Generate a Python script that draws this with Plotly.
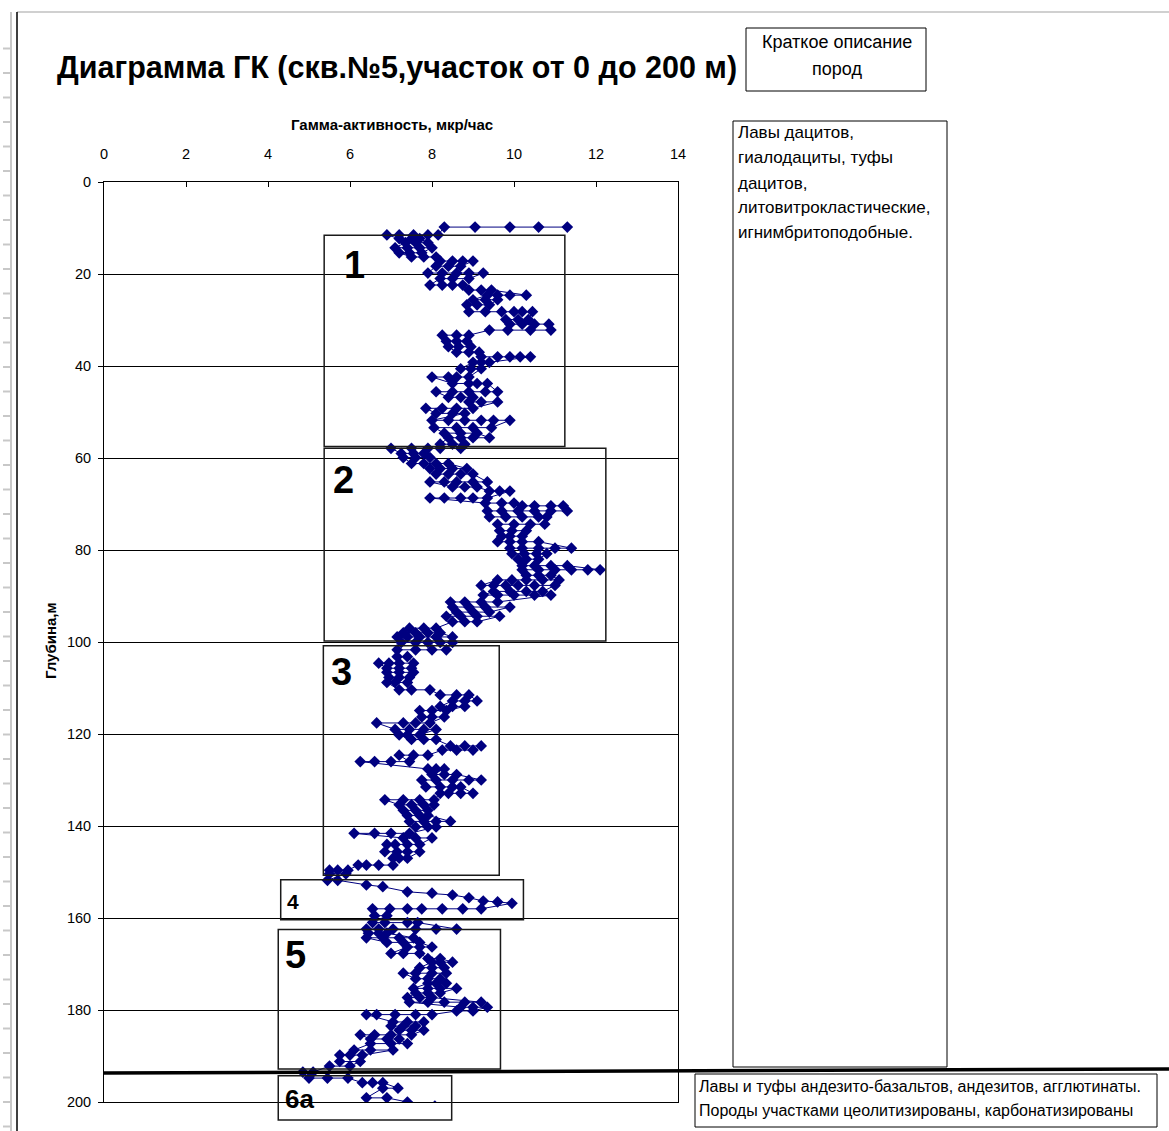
import plotly.graph_objects as go

# ---------------- data ----------------
# Each row: one logging depth (m) with the successive gamma readings (мкр/час)
row_depth = [
    9.8, 11.5, 12.3, 13.2, 14.3, 15.4, 16.3, 17.2, 18.3, 19.8,
    21.0, 22.4, 23.5, 24.6, 25.6, 26.7, 28.2, 29.9, 30.9, 32.2,
    33.3, 34.6, 35.8, 37.0, 38.0, 39.2, 40.6, 42.4, 43.8, 45.6,
    46.8, 47.8, 49.2, 50.3, 51.8, 53.4, 54.6, 55.6, 57.0, 57.9,
    59.0, 59.9, 61.2, 62.3, 63.5, 65.2, 66.3, 67.2, 68.7, 69.8,
    70.4, 71.5, 72.8, 74.4, 75.8, 77.0, 78.2, 79.6, 80.8, 82.0,
    83.4, 84.3, 85.5, 86.5, 87.7, 89.0, 89.8, 91.3, 92.4, 93.5,
    94.4, 95.6, 97.0, 98.0, 98.9, 100.1, 101.7, 103.2, 104.6, 105.7,
    106.6, 107.7, 108.8, 110.4, 111.5, 112.8, 114.0, 114.9, 116.3, 117.6,
    119.0, 120.2, 121.2, 122.6, 123.5, 124.6, 126.0, 127.6, 128.8, 130.0,
    131.5, 132.9, 134.3, 135.4, 136.6, 137.7, 139.0, 140.2, 141.6, 142.6,
    144.0, 145.6, 147.0, 148.5, 149.6, 150.4, 151.8, 152.8, 153.2, 154.3,
    154.6, 155.0, 155.6, 156.3, 156.5, 156.8, 158.0, 159.5, 161.0, 162.4,
    163.3, 164.3, 165.3, 166.3, 167.7, 168.8, 169.6, 170.8, 172.0, 173.2,
    174.2, 175.3, 176.3, 177.3, 178.3, 179.4, 180.2, 181.0, 182.6, 183.5,
    184.4, 185.4, 186.3, 187.3, 188.7, 189.8, 191.2, 192.2, 193.5, 194.8,
    195.8, 197.0, 199.1, 200.0, 200.9,
]
row_values = [
    [11.3, 10.6, 9.9, 9.05, 8.3], [8.15, 7.9, 7.55, 7.2, 6.9], [7.2, 7.5, 7.7],
    [7.9, 7.6, 7.35], [7.1, 7.4, 7.7, 8.0], [7.75, 7.45, 7.2], [7.5, 7.8, 8.1],
    [8.2, 8.5, 8.75, 9.0], [8.7, 8.4, 8.1], [7.9, 8.25, 8.6, 8.9, 9.25],
    [8.9, 8.5, 8.2], [7.95, 8.25, 8.5, 8.75], [8.9, 9.2, 9.45], [10.3, 9.9, 9.6, 9.35],
    [9.0, 9.3, 9.6], [9.4, 9.1, 8.85], [8.9, 9.3, 9.7, 10.0, 10.2, 10.45],
    [10.35, 10.1, 9.8], [9.9, 10.2, 10.5, 10.85], [10.9, 10.4, 9.85, 9.4],
    [8.9, 8.6, 8.25], [8.35, 8.6, 8.85], [8.95, 8.65, 8.4], [8.6, 8.9, 9.15],
    [9.2, 9.6, 9.9, 10.15, 10.4], [9.4, 9.2, 9.0], [8.7, 8.95, 9.2],
    [8.9, 8.6, 8.4, 8.0], [8.5, 8.9, 9.1, 9.35], [9.6, 9.3, 8.9, 8.5, 8.1],
    [8.4, 8.7, 9.0], [8.9, 9.2, 9.6], [9.0, 8.6, 8.25, 7.85], [8.1, 8.5, 8.8],
    [8.0, 8.4, 8.8, 9.2, 9.5, 9.9], [9.45, 9.0, 8.6, 8.05], [8.3, 8.7, 9.1],
    [9.4, 9.0, 8.7, 8.4], [8.2, 8.5, 8.8], [8.7, 8.2, 7.9, 7.5, 7.0],
    [7.25, 7.55, 7.8], [7.95, 7.6, 7.3], [7.5, 7.8, 8.1, 8.4], [8.85, 8.5, 8.2, 7.95],
    [8.1, 8.4, 8.7, 9.0], [9.35, 9.0, 8.6, 8.3, 7.95], [8.5, 8.8, 9.1],
    [9.4, 9.65, 9.9], [9.35, 9.0, 8.7, 8.3, 7.95], [9.3, 9.7, 10.0],
    [10.2, 10.5, 10.9, 11.2], [11.3, 10.9, 10.5, 10.1, 9.7, 9.35],
    [9.4, 9.8, 10.2, 10.6, 10.8], [10.75, 10.4, 10.0, 9.6], [9.65, 9.95, 10.3],
    [10.2, 9.9, 9.7], [9.6, 9.9, 10.2, 10.6], [11.4, 11.0, 10.6, 10.2, 9.9],
    [9.95, 10.25, 10.55, 10.8], [10.6, 10.3, 10.1], [10.2, 10.5, 10.9, 11.3],
    [12.1, 11.8, 11.4, 11.0, 10.6, 10.2], [10.3, 10.6, 10.9],
    [11.1, 10.7, 10.3, 9.95, 9.6], [9.2, 9.5, 9.8, 10.1, 10.5, 11.0],
    [10.7, 10.3, 9.9, 9.5], [9.25, 9.6, 10.0, 10.5, 10.9], [9.6, 9.2, 8.8, 8.45],
    [8.5, 8.9, 9.3, 9.9], [9.4, 9.0, 8.6], [8.35, 8.7, 9.1, 9.65], [9.1, 8.8, 8.5],
    [8.1, 7.8, 7.45], [7.3, 7.6, 7.9, 8.2], [8.5, 8.1, 7.7, 7.4, 7.15],
    [7.25, 7.6, 7.9, 8.2, 8.5], [8.35, 8.0, 7.6, 7.15], [7.15, 7.4],
    [7.55, 7.2, 6.95, 6.7], [6.9, 7.2, 7.5], [7.55, 7.2, 6.9], [6.95, 7.2, 7.45],
    [7.4, 7.1, 6.9], [7.2, 7.5, 7.95], [8.2, 8.6, 8.9], [9.1, 8.8, 8.5],
    [8.2, 8.5, 8.8], [8.35, 8.0, 7.7], [7.75, 8.0, 8.3], [7.95, 7.6, 7.3, 6.65],
    [7.1, 7.45, 7.8, 8.1], [7.7, 7.4, 7.2], [7.5, 7.8, 8.1], [8.45, 8.8, 9.2],
    [9.0, 8.6, 8.25], [7.9, 7.55, 7.2], [7.45, 7.0, 6.6, 6.25], [7.9, 8.1, 8.3],
    [8.0, 8.3, 8.6], [9.2, 8.9, 8.5, 8.1, 7.75], [7.85, 8.2, 8.5, 8.7],
    [9.0, 8.7, 8.4, 8.2], [8.05, 7.7, 7.3, 6.85], [7.2, 7.5, 7.8, 8.05],
    [7.9, 7.6, 7.3], [7.4, 7.7, 7.9], [8.45, 8.1, 7.8, 7.45], [7.6, 7.9, 8.1],
    [7.45, 7.0, 6.6, 6.1], [7.3, 7.6, 8.0], [7.7, 7.4, 7.1, 6.9],
    [6.85, 7.15, 7.4, 7.7], [7.4, 7.2, 7.05], [7.05, 6.7, 6.4, 6.2],
    [5.95, 5.7, 5.5], [5.5, 5.9], [5.45, 5.7], [6.4], [6.8], [7.4],
    [8.0], [8.5], [8.9], [9.25], [9.6], [9.95],
    [9.2, 8.75, 8.25, 7.75, 7.4, 6.97, 6.55], [6.6, 6.9],
    [6.55, 6.85, 7.4, 7.65], [8.6, 8.1, 7.6, 7.05, 6.7, 6.4],
    [6.45, 6.7, 6.9], [7.55, 7.2, 6.8, 6.4], [6.9, 7.3, 7.7], [8.0, 7.7, 7.4],
    [7.0, 7.3, 7.7], [7.9, 8.2], [8.5, 8.2, 8.0], [7.7, 8.0, 8.3],
    [8.35, 8.0, 7.6, 7.3], [7.6, 7.9, 8.2], [8.35, 8.1, 7.9],
    [7.55, 7.9, 8.2, 8.6], [8.2, 7.9, 7.6], [7.4, 7.7, 8.0],
    [9.2, 8.8, 8.3, 7.9, 7.45], [8.7, 9.0, 9.35], [9.0, 8.6],
    [8.0, 7.6, 7.1, 6.65, 6.4], [7.05, 7.4, 7.8], [7.6, 7.3, 7.0],
    [7.2, 7.5, 7.8], [7.5, 7.0, 6.6, 6.25], [6.5, 6.9, 7.2], [7.4, 7.0, 6.5],
    [6.1, 6.5, 7.05], [6.3, 6.0, 5.75], [5.75, 6.25], [6.0, 5.5],
    [5.1, 4.85], [5.0, 5.45, 5.95], [6.3, 6.55, 6.8], [7.17, 6.8],
    [6.4, 6.9], [7.4], [8.07],
]

# Lithological zones: label, gamma range, depth range
zone_label = ["1", "2", "3", "4", "5", "6a"]
zone_xmin = [5.37, 5.37, 5.35, 4.31, 4.25, 4.25]
zone_xmax = [11.24, 12.24, 9.64, 10.23, 9.67, 8.48]
zone_top = [11.6, 57.9, 100.8, 151.7, 162.5, 194.3]
zone_bottom = [57.5, 99.8, 150.7, 160.4, 192.8, 203.9]
zone_label_x = [6.12, 5.83, 5.80, 4.61, 4.68, 4.78]
zone_label_y = [18.0, 64.8, 106.5, 156.5, 168.0, 199.4]
zone_label_size = [38, 38, 38, 21, 38, 26]

boundary_depth_left = 193.7   # thick boundary between units
boundary_depth_right = 192.8

x_ticks = [0, 2, 4, 6, 8, 10, 12, 14]
y_ticks = [0, 20, 40, 60, 80, 100, 120, 140, 160, 180, 200]

title_text = "Диаграмма ГК (скв.№5,участок от 0 до 200 м)"
x_title = "Гамма-активность, мкр/час"
y_title = "Глубина,м"
header_lines = ["Краткое описание", "пород"]
upper_desc = ["Лавы дацитов,", "гиалодациты, туфы", "дацитов,",
              "литовитрокластические,", "игнимбритоподобные."]
lower_desc = ["Лавы и туфы андезито-базальтов, андезитов, агглютинаты.",
              "Породы участками цеолитизированы, карбонатизированы"]

# ---------------- figure ----------------
W, H = 1169, 1131
L, R, T, B = 104, 678, 182, 1102   # plot-area pixel box
XMAX, YMAX = 14, 200
FONT = "Liberation Sans, Arial, sans-serif"

def px(xpix):
    return (xpix - L) / (R - L)

def py(ypix):
    return (B - ypix) / (B - T)

def dx(v):  # data value -> paper x
    return v / XMAX

def dy(d):  # depth -> paper y (reversed axis)
    return 1 - d / YMAX

depths, vals = [], []
for d, vs in zip(row_depth, row_values):
    for v in vs:
        depths.append(d)
        vals.append(v)

fig = go.Figure()
fig.add_trace(go.Scatter(
    x=vals, y=depths, mode="lines+markers",
    line=dict(color="#000080", width=1),
    marker=dict(symbol="diamond", size=9, color="#000080"),
    hoverinfo="skip",
))

shapes = []
annotations = []

# zone boxes
for i in range(len(zone_label)):
    shapes.append(dict(type="rect", xref="paper", yref="paper",
                       x0=dx(zone_xmin[i]), x1=dx(zone_xmax[i]),
                       y0=dy(zone_top[i]), y1=dy(zone_bottom[i]),
                       line=dict(color="#1a1a1a", width=1.5), layer="above"))
    annotations.append(dict(x=zone_label_x[i], y=zone_label_y[i], xref="x", yref="y",
                            text="<b>%s</b>" % zone_label[i], showarrow=False,
                            font=dict(family=FONT, size=zone_label_size[i], color="black"),
                            xanchor="center", yanchor="middle"))

# thick boundary line
shapes.append(dict(type="line", xref="paper", yref="paper",
                   x0=0, x1=px(W), y0=dy(boundary_depth_left), y1=dy(boundary_depth_right),
                   line=dict(color="black", width=3.5), layer="above"))

# description boxes
shapes.append(dict(type="rect", xref="paper", yref="paper", x0=px(746), x1=px(926),
                   y0=py(91), y1=py(28), line=dict(color="black", width=1)))
shapes.append(dict(type="rect", xref="paper", yref="paper", x0=px(733), x1=px(947),
                   y0=py(1067), y1=py(121), line=dict(color="black", width=1)))
shapes.append(dict(type="rect", xref="paper", yref="paper", x0=px(695), x1=px(1157),
                   y0=py(1127), y1=py(1074), line=dict(color="black", width=1)))

# sheet edge decorations
shapes.append(dict(type="line", xref="paper", yref="paper", x0=px(17), x1=px(W),
                   y0=py(12), y1=py(12), line=dict(color="#c0c0c0", width=1.5)))
shapes.append(dict(type="line", xref="paper", yref="paper", x0=px(11), x1=px(11),
                   y0=py(12), y1=py(H), line=dict(color="#c8c8c8", width=2)))
shapes.append(dict(type="line", xref="paper", yref="paper", x0=px(17), x1=px(17),
                   y0=py(12), y1=py(H), line=dict(color="black", width=1.5)))
ytk = 563.0
while ytk > 30:
    ytk -= 24.5
yy = ytk + 24.5
while yy < H:
    shapes.append(dict(type="line", xref="paper", yref="paper", x0=px(3), x1=px(11),
                       y0=py(yy), y1=py(yy), line=dict(color="#c8c8c8", width=2)))
    yy += 24.5

# texts
annotations.append(dict(x=px(397), y=py(68), xref="paper", yref="paper",
                        text="<b>%s</b>" % title_text, showarrow=False,
                        font=dict(family=FONT, size=30.5, color="black"),
                        xanchor="center", yanchor="middle"))
annotations.append(dict(x=px(392), y=py(124), xref="paper", yref="paper",
                        text="<b>%s</b>" % x_title, showarrow=False,
                        font=dict(family=FONT, size=15, color="black"),
                        xanchor="center", yanchor="middle"))
annotations.append(dict(x=px(50), y=py(641), xref="paper", yref="paper",
                        text="<b>%s</b>" % y_title, showarrow=False, textangle=-90,
                        font=dict(family=FONT, size=15, color="black"),
                        xanchor="center", yanchor="middle"))
for k, t in enumerate(header_lines):
    annotations.append(dict(x=px(837), y=py(42 + 27 * k), xref="paper", yref="paper",
                            text=t, showarrow=False,
                            font=dict(family=FONT, size=18, color="black"),
                            xanchor="center", yanchor="middle"))
for k, t in enumerate(upper_desc):
    annotations.append(dict(x=px(736), y=py(133 + 25 * k), xref="paper", yref="paper",
                            text=t, showarrow=False,
                            font=dict(family=FONT, size=17, color="black"),
                            xanchor="left", yanchor="middle"))
for k, t in enumerate(lower_desc):
    annotations.append(dict(x=px(697), y=py(1086 + 24 * k), xref="paper", yref="paper",
                            text=t, showarrow=False,
                            font=dict(family=FONT, size=16, color="black"),
                            xanchor="left", yanchor="middle"))

fig.update_layout(
    width=W, height=H, autosize=False,
    margin=dict(l=L, r=W - R, t=T, b=H - B, pad=0),
    paper_bgcolor="white", plot_bgcolor="white",
    showlegend=False,
    font=dict(family=FONT, size=14, color="black"),
    shapes=shapes, annotations=annotations,
    xaxis=dict(side="top", range=[0, XMAX], tickvals=x_ticks,
               ticks="inside", ticklen=5, tickcolor="black",
               showline=True, linecolor="black", linewidth=1, mirror=True,
               showgrid=False, zeroline=False, ticklabelstandoff=16,
               tickfont=dict(family=FONT, size=14.5, color="black")),
    yaxis=dict(range=[YMAX, 0], tickvals=y_ticks,
               ticks="outside", ticklen=5, tickcolor="black",
               showline=True, linecolor="black", linewidth=1, mirror=True,
               showgrid=True, gridcolor="black", gridwidth=1, zeroline=False,
               ticklabelstandoff=4,
               tickfont=dict(family=FONT, size=14.5, color="black")),
)

fig.write_html("out.html", config={"displayModeBar": False},
               post_script="document.body.style.margin='0';")
